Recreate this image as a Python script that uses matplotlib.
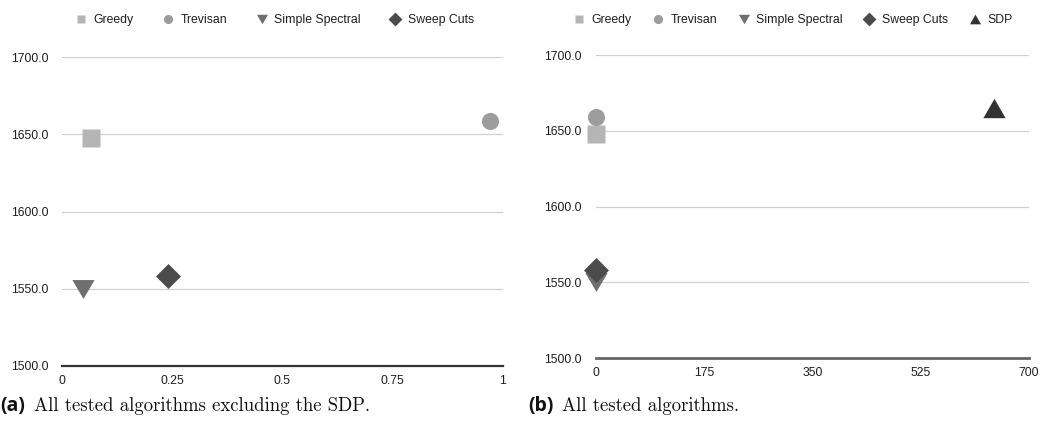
import matplotlib
matplotlib.use("Agg")
import matplotlib.pyplot as plt
from matplotlib.lines import Line2D

# Running time (s) vs. cut value for each algorithm
algorithms = ["Greedy", "Trevisan", "Simple Spectral", "Sweep Cuts", "SDP"]
runtime = [0.065, 0.972, 0.048, 0.239, 644.0]
cut_value = [1648.0, 1659.0, 1550.0, 1558.0, 1665.0]

left_xticks = [0, 0.25, 0.5, 0.75, 1]
left_xlabels = ["0", "0.25", "0.5", "0.75", "1"]
right_xticks = [0, 175, 350, 525, 700]
right_xlabels = ["0", "175", "350", "525", "700"]
yticks = [1500, 1550, 1600, 1650, 1700]
ylabels = ["1500.0", "1550.0", "1600.0", "1650.0", "1700.0"]

# Marker shapes (custom triangles are a little wider than tall)
tri_down = [(-1.0, 0.85), (1.0, 0.85), (0.0, -0.85)]
tri_up = [(-1.0, -0.87), (1.0, -0.87), (0.0, 0.87)]
diamond = [(0, 1), (1, 0), (0, -1), (-1, 0)]
styles = {
    "Greedy": dict(marker="s", color="#b5b5b5", ms=12.5, lms=6.0),
    "Trevisan": dict(marker="o", color="#9c9c9c", ms=12.3, lms=6.6),
    "Simple Spectral": dict(marker=tri_down, color="#6f6f6f", ms=16.0, lms=8.0),
    "Sweep Cuts": dict(marker=diamond, color="#4b4b4b", ms=18.0, lms=10.0),
    "SDP": dict(marker=tri_up, color="#333333", ms=16.0, lms=8.0),
}

plt.rcParams["font.family"] = ["Liberation Sans", "DejaVu Sans"]
TXT = "#1e1e1e"
FS = 8.8

fig = plt.figure(figsize=(10.43, 4.45), dpi=100)
ax_a = fig.add_axes([62.3 / 1043, 1 - 366.0 / 445, 440.4 / 1043, 308.7 / 445])
ax_b = fig.add_axes([595.7 / 1043, 1 - 358.3 / 445, 433.3 / 1043, 303.3 / 445])


def style_axes(ax, xticks, xlabels, xmax, baseline_color, baseline_w):
    ax.set_xlim(0, xmax)
    ax.set_ylim(1500, 1700)
    for s in ax.spines.values():
        s.set_visible(False)
    for y in yticks[1:]:
        ax.axhline(y, color="#d0d0d0", lw=0.9, zorder=1)
    ax.axhline(1500, color=baseline_color, lw=baseline_w, zorder=2, clip_on=False)
    ax.set_yticks(yticks)
    ax.set_yticklabels(ylabels)
    ax.set_xticks(xticks)
    ax.set_xticklabels(xlabels)
    ax.tick_params(axis="both", length=0, labelsize=FS, colors=TXT)
    ax.tick_params(axis="y", pad=10)
    ax.tick_params(axis="x", pad=6.5)
    ax.set_facecolor("none")


style_axes(ax_a, left_xticks, left_xlabels, 1, "#333333", 1.6)
style_axes(ax_b, right_xticks, right_xlabels, 700, "#666666", 2.0)


def plot_points(ax, names):
    handles = []
    for name in names:
        i = algorithms.index(name)
        st = styles[name]
        ax.plot([runtime[i]], [cut_value[i]], linestyle="none", marker=st["marker"],
                ms=st["ms"], color=st["color"], mec="none", clip_on=False, zorder=3)
        handles.append(Line2D([], [], linestyle="none", marker=st["marker"],
                              ms=st["lms"], color=st["color"], mec="none", label=name))
    return handles


h_a = plot_points(ax_a, algorithms[:4])
h_b = plot_points(ax_b, algorithms)

leg_a = ax_a.legend(handles=h_a, loc="center", bbox_to_anchor=(0.482, 1.12), ncol=4,
                    frameon=False, fontsize=FS, handlelength=0.9, handletextpad=0.55,
                    columnspacing=2.4, labelcolor=TXT)
leg_b = ax_b.legend(handles=h_b, loc="center", bbox_to_anchor=(0.455, 1.115), ncol=5,
                    frameon=False, fontsize=FS, handlelength=0.9, handletextpad=0.6,
                    columnspacing=1.7, labelcolor=TXT)

# Sub-figure captions
cap_y = 1 - 406.0 / 445
for x0, tag, text in [(0.0, "(a)", "All tested algorithms excluding the SDP."),
                      (528.0, "(b)", "All tested algorithms.")]:
    t = fig.text(x0 / 1043, cap_y, tag, fontsize=14, fontweight="bold",
                 family=["Open Sans", "DejaVu Sans"], color="#111111", va="center")
    fig.canvas.draw()
    bb = t.get_window_extent()
    fig.text((bb.x1 + 9) / 1043, cap_y, text, fontsize=13.5, family=["cmr10", "DejaVu Serif"],
             color="#111111", va="center")

fig.savefig("out.png", dpi=100)
